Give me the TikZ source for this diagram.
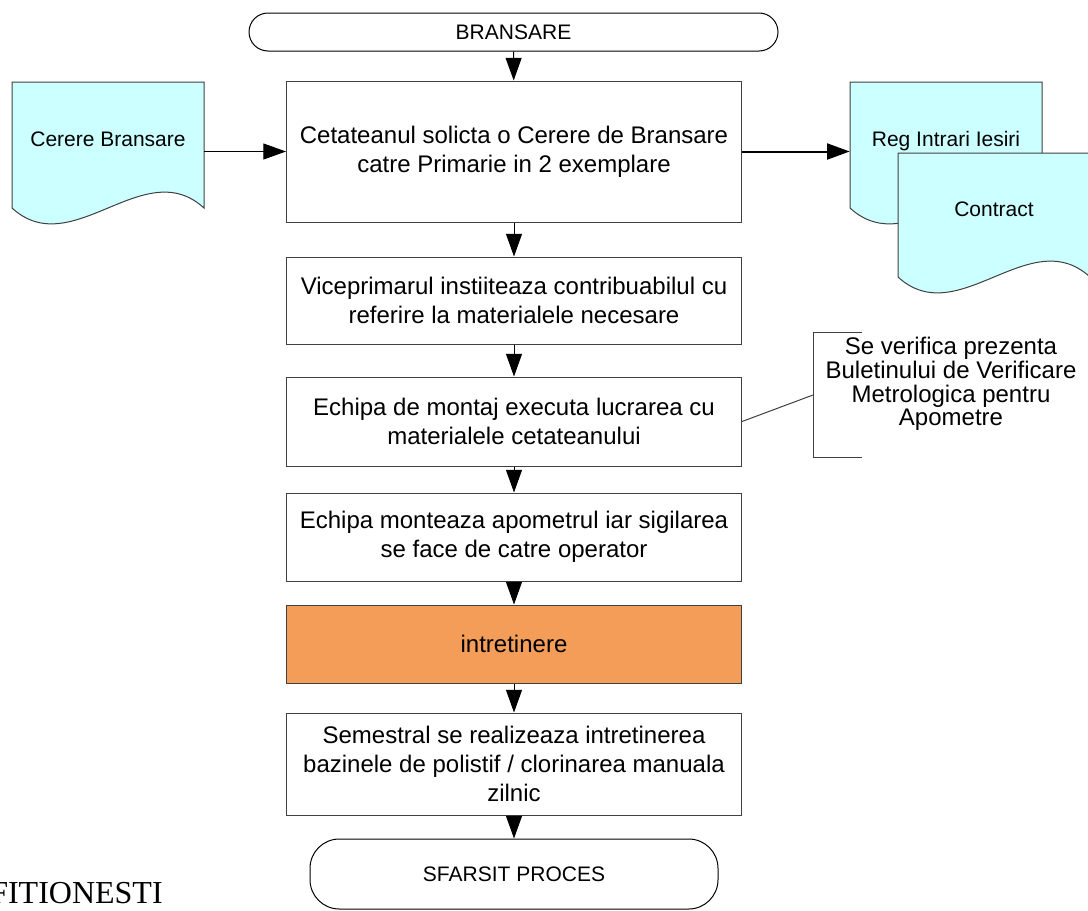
\documentclass[tikz,border=0pt]{standalone}
\usepackage{fontspec}
\setmainfont{Liberation Sans}
\newfontfamily\timesfont{Liberation Serif}
\usetikzlibrary{arrows.meta}
\definecolor{docfill}{RGB}{204,255,255}
\definecolor{maintfill}{RGB}{244,157,88}
\begin{document}
\begin{tikzpicture}[x=0.75pt,y=-0.75pt,
  proc/.style={draw=black!75, line width=0.75pt, fill=white, minimum width=341.25pt, align=center, inner sep=0pt, font=\fontsize{18}{21.5}\selectfont},
  term/.style={draw=black, line width=0.75pt, inner sep=0pt, font=\fontsize{15.75}{18}\selectfont},
  doc/.style={minimum width=144pt, minimum height=94.5pt, text depth=9pt, inner sep=0pt, font=\fontsize{15.75}{18}\selectfont},
  docline/.style={draw=black!75, line width=0.75pt, fill=docfill},
  flow/.style={-{Triangle[length=17pt,width=12pt]}, line width=0.75pt},
  ]
\path[fill=white] (0,0) rectangle (1088,910);
\clip (0,0) rectangle (1088,910);
% documents
\filldraw[docline] (12,82) -- (204,82) -- (204,208) .. controls +(-60,-55) and +(60,55) .. (12,208) -- cycle;
\node[doc] (cerere) at (108,145) {Cerere Bransare};
\filldraw[docline] (850,82) -- (1042,82) -- (1042,208) .. controls +(-60,-55) and +(60,55) .. (850,208) -- cycle;
\node[doc] (reg) at (946,145) {Reg Intrari Iesiri};
\filldraw[docline] (898,153) -- (1090,153) -- (1090,277) .. controls +(-60,-55) and +(60,55) .. (898,277) -- cycle;
\node[doc] (contract) at (994,215) {Contract};
% main flow
\node[term, rounded corners=14.25pt, minimum width=396.75pt, minimum height=28.5pt] (start) at (513.5,32) {BRANSARE};
\node[proc, minimum height=105.75pt] (b1) at (514,151.5) {Cetateanul solicta o Cerere de Bransare\\catre Primarie in 2 exemplare};
\node[proc, minimum height=65.25pt] (b2) at (514,300.5) {Viceprimarul instiiteaza contribuabilul cu\\referire la materialele necesare};
\node[proc, minimum height=66.75pt] (b3) at (514,421.5) {Echipa de montaj executa lucrarea cu\\materialele cetateanului};
\node[proc, minimum height=66pt] (b4) at (514,537) {Echipa monteaza apometrul iar sigilarea\\se face de catre operator};
\node[proc, fill=maintfill, minimum height=58.5pt] (maint) at (514,644) {intretinere};
\node[proc, minimum height=76.5pt] (b6) at (514,764) {Semestral se realizeaza intretinerea\\bazinele de polistif / clorinarea manuala\\zilnic};
\node[term, rounded corners=22pt, minimum width=306pt, minimum height=52.5pt] (stop) at (514,874) {SFARSIT PROCES};
\draw[flow] (start) -- (b1);
\draw[flow] (b1) -- (b2);
\draw[flow] (b2) -- (b3);
\draw[flow] (b3) -- (b4);
\draw[flow] (b4) -- (maint);
\draw[flow] (maint) -- (b6);
\draw[flow] (b6) -- (stop);
\draw[flow] (b1.west -| cerere.east) -- (b1.west);
\draw[flow, line width=1.5pt] (b1.east) -- (b1.east -| reg.west);
% note
\node[align=center, inner sep=0pt, font=\fontsize{18}{17.8}\selectfont] (verif) at (951,384) {Se verifica prezenta\\Buletinului de Verificare\\Metrologica pentru\\Apometre};
\coordinate (brk) at (813,395);
\draw[black!75, line width=0.75pt] (862,332) -| (813,457) -- (862,457);
\draw[black!75, line width=0.75pt] (b3.east) -- (brk);
\node[anchor=base west, inner sep=0pt, font=\timesfont\fontsize{24}{24}\selectfont] (loc) at (-10,903) {FITIONESTI};
\end{tikzpicture}
\end{document}
